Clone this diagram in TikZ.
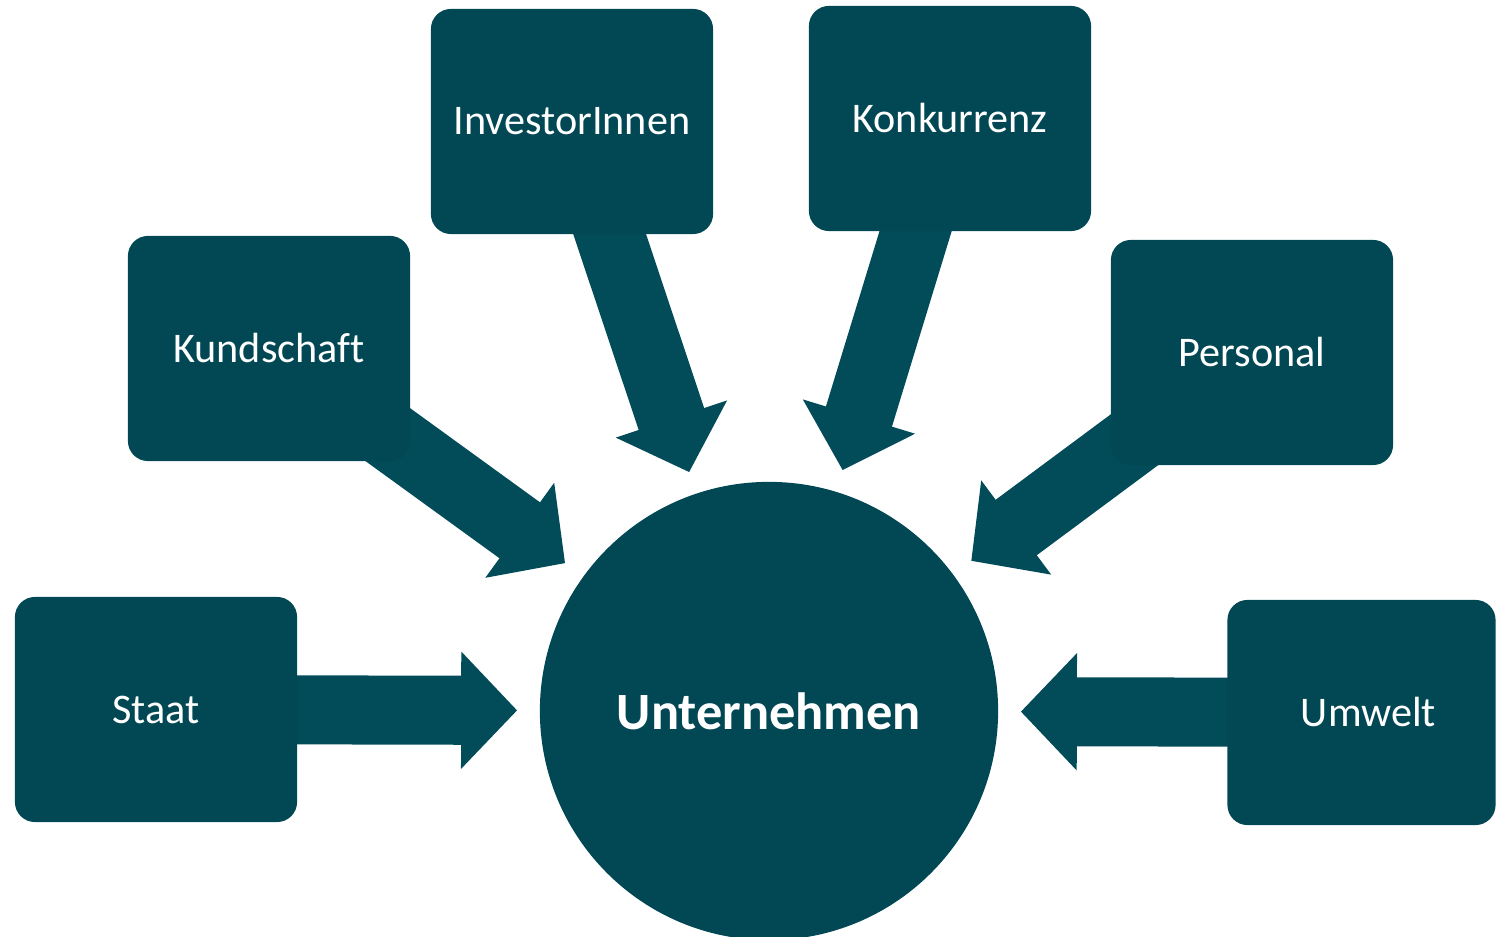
\documentclass[tikz,border=0pt]{standalone}
\usepackage{fontspec}
\setmainfont[Ligatures=NoCommon]{Carlito}
\usetikzlibrary{arrows.meta,backgrounds}
\definecolor{boxcol}{HTML}{024854}
\definecolor{arrcol}{HTML}{024B58}
\begin{document}
\begin{tikzpicture}[x=0.01cm,y=-0.01cm,
  stake/.style={rectangle,fill=boxcol,rounded corners=0.2cm,minimum width=2.82cm,
    minimum height=2.25cm,inner sep=0pt,text=white,font=\fontsize{12pt}{14pt}\selectfont},
  core/.style={circle,fill=boxcol,minimum size=4.58cm,inner sep=0pt,text=white,
    font=\fontsize{14.9pt}{18pt}\selectfont\bfseries},
  bigarrow/.style={draw=arrcol,line width=0.69cm,shorten >=0.22cm,
    -{Triangle[length=0.56cm,width=1.14cm]},arrcol}]
\useasboundingbox (0,0) rectangle (1496,937);
\node[core] (circ) at (769,711) {Unternehmen};
\node[stake] (staat) at (156,709.5) {Staat};
\node[stake] (kund) at (269,348.5) {Kundschaft};
\node[stake] (inv) at (572,121.5) {InvestorInnen};
\node[stake] (konk) at (950,118.5) {Konkurrenz};
\node[stake] (pers) at (1252,352.5) {Personal};
\node[stake,minimum width=2.68cm] (umw) at (1361.5,712.5) {\hspace{0.14cm}Umwelt};
\begin{pgfonlayer}{background}
\draw[bigarrow] (staat.center) -- (circ);
\draw[bigarrow] (kund.center) -- (circ);
\draw[bigarrow] (inv.center) -- (circ);
\draw[bigarrow] (konk.center) -- (circ);
\draw[bigarrow] (pers.center) -- (circ);
\draw[bigarrow] (umw.center) -- (circ);
\end{pgfonlayer}
\end{tikzpicture}
\end{document}
